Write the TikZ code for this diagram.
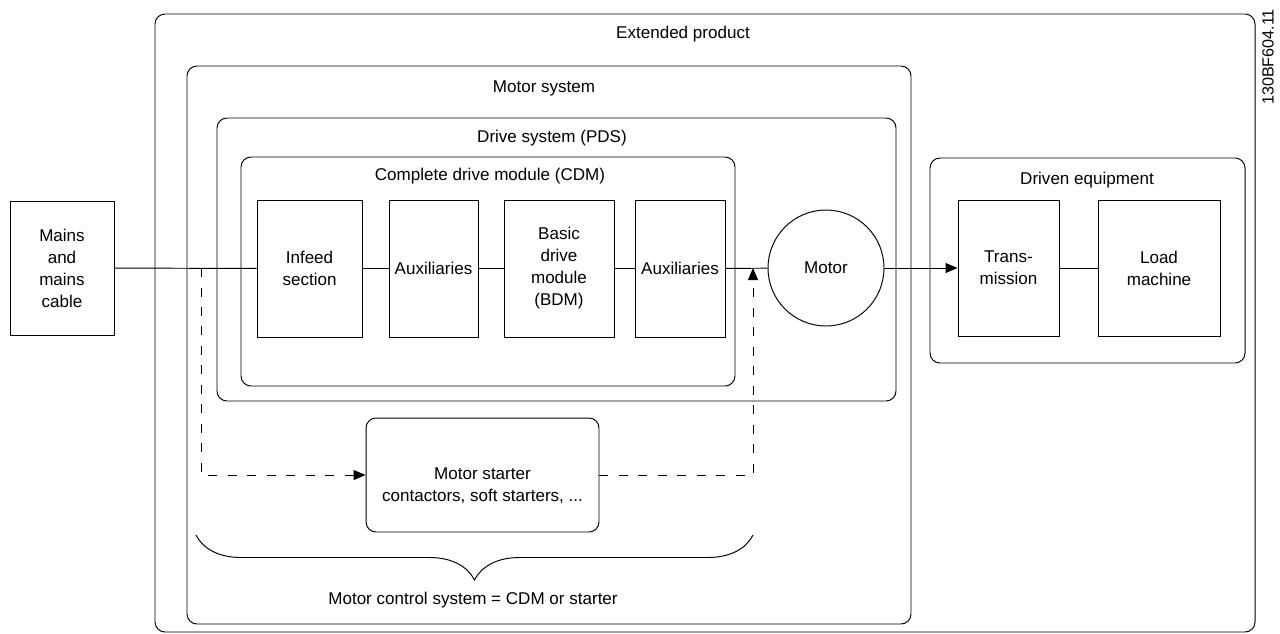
\documentclass[tikz,border=0pt]{standalone}
\usepackage{fontspec}
\setmainfont{Liberation Sans}
\usetikzlibrary{arrows.meta,decorations.pathreplacing}

\begin{document}
\begin{tikzpicture}[x=0.02cm, y=-0.02cm,
                    line width=0.55pt,
                    every node/.style={font=\fontsize{9.7}{12.5}\selectfont, align=center},
                    container/.style={draw, rounded corners=0.2cm},
                    unit/.style={draw, rectangle, minimum height=2.74cm, inner sep=1pt},
                    flow/.style={-{Triangle[length=0.24cm, width=0.2cm]}},
                    ctrl/.style={dash pattern=on 0.18cm off 0.21cm},
                    brace/.style={decorate, decoration={brace, mirror, amplitude=0.9cm}}]
      \useasboundingbox (0,0) rectangle (1280,633);
      % frames
      \draw[container] (155,14) rectangle (1255,632);
      \draw[container] (187,66) rectangle (911,624);
      \draw[container] (217,118) rectangle (896,401);
      \draw[container] (241,157) rectangle (735,386);
      \draw[container] (930,158) rectangle (1245,363);
      \node (extended) at (683,34) {Extended product};
      \node (motor_system) at (544,88) {Motor system};
      \node (pds) at (552,138) {Drive system (PDS)};
      \node (cdm) at (490,176) {Complete drive module (CDM)};
      \node (driven) at (1087,180) {Driven equipment};
      % units
      \node[unit, minimum width=2.08cm, minimum height=2.68cm] (mains) at (62,268) {Mains\\and\\mains\\cable};
      \node[unit, minimum width=2.1cm] (infeed) at (309.5,268.5) {Infeed\\section};
      \node[unit, minimum width=1.78cm] (aux_a) at (433.5,268.5) {Auxiliaries};
      \node[unit, minimum width=2.2cm] (bdm) at (559,268.5) {Basic\\drive\\module\\(BDM)};
      \node[unit, minimum width=1.8cm] (aux_b) at (680,268.5) {Auxiliaries};
      \node[draw, circle, minimum size=2.32cm] (motor) at (826,268) {Motor};
      \node[unit, minimum width=2.02cm, minimum height=2.72cm] (transmission) at (1008.5,268) {Trans-\\mission};
      \node[unit, minimum width=2.44cm, minimum height=2.72cm] (load) at (1159,268) {Load\\machine};
      \node[draw, rounded corners=0.2cm, minimum width=4.66cm, minimum height=2.28cm] (starter) at (482.5,475) {};
      \node (starter_text) at (482.5,486) {Motor starter\\contactors, soft starters, ...};
      \coordinate (tap) at (201,268);
      \coordinate (join) at (753,268);
      % power path
      \draw (mains) -- (infeed);
      \draw (infeed) -- (aux_a);
      \draw (aux_a) -- (bdm);
      \draw (bdm) -- (aux_b);
      \draw (aux_b) -- (motor);
      \draw[flow] (motor) -- (transmission);
      \draw (transmission) -- (load);
      % starter path
      \draw[ctrl, flow] (tap) |- (starter.west);
      \draw[ctrl, flow] (starter.east) -| (join);
      \draw[brace] (196,535) -- (753,535);
      \node (control) at (473,600) {Motor control system = CDM or starter};
      \node[rotate=90, font=\fontsize{9.2}{11}\selectfont] (code) at (1268,57) {130BF604.11};
    \end{tikzpicture}
\end{document}
